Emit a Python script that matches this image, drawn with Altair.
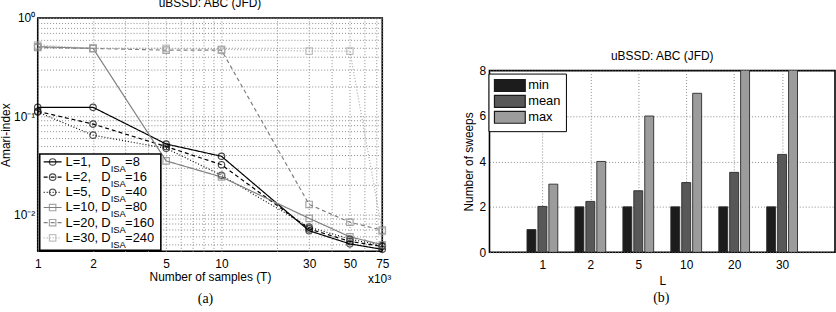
import altair as alt
import pandas as pd

# ---------------- data ----------------
# number of samples T (x10^3)
T = [1, 2, 5, 10, 30, 50, 75]
L_values = [1, 2, 5, 10, 20, 30]
D_isa = [8, 16, 40, 80, 160, 240]

amari_L1 = [0.123, 0.123, 0.052, 0.039, 0.0068, 0.0050, 0.0044]
amari_L2 = [0.112, 0.083, 0.049, 0.032, 0.0071, 0.0053, 0.0047]
amari_L5 = [0.110, 0.064, 0.047, 0.025, 0.0074, 0.0056, 0.0048]
amari_L10 = [0.51, 0.49, 0.035, 0.024, 0.0091, 0.0059, 0.0049]
amari_L20 = [0.50, 0.49, 0.47, 0.47, 0.0126, 0.0083, 0.0069]
amari_L30 = [0.53, 0.49, 0.49, 0.48, 0.46, 0.46, 0.0067]

sweeps_min = [1, 2, 2, 2, 2, 2]
sweeps_mean = [2.02, 2.24, 2.71, 3.07, 3.52, 4.31]
sweeps_max = [3, 4, 6, 7, 9, 10]

FONT = "Liberation Sans"

# ---------------- panel (a): Amari-index vs T ----------------
names = [f"L={l}" for l in L_values]
curves = [amari_L1, amari_L2, amari_L5, amari_L10, amari_L20, amari_L30]
rows = []
for name, vals in zip(names, curves):
    for t, v in zip(T, vals):
        rows.append({"series": name, "T": t, "amari": v})
df = pd.DataFrame(rows)

line_colors = ["#000000", "#000000", "#111111", "#808080", "#808080", "#a8a8a8"]
line_dashes = [[1, 0], [4, 3], [1, 2], [1, 0], [4, 3], [1, 2]]
marker_shapes = ["circle", "circle", "circle", "square", "square", "square"]

color_scale = alt.Scale(domain=names, range=line_colors)
dash_scale = alt.Scale(domain=names, range=line_dashes)
shape_scale = alt.Scale(domain=names, range=marker_shapes)

x_grid = [1, 2, 3, 4, 5, 6, 7, 8, 9, 10, 20, 30, 40, 50, 60, 70, 75]
y_grid = [m * 10.0 ** e for e in (-3, -2, -1) for m in range(1, 10)] + [1.0]
y_grid = [round(v, 6) for v in y_grid if v > 0.0045]

LW, LH = 347, 235

x_left = alt.X(
    "T:Q",
    scale=alt.Scale(type="log", domain=[1, 75], nice=False),
    axis=alt.Axis(
        values=x_grid,
        labelExpr="indexof([1,2,5,10,30,50,75], datum.value) >= 0 ? toString(datum.value) : ''",
        title="Number of samples (T)",
        labelPadding=7,
        titlePadding=2,
        labelOverlap=False,
        labelFlush=False,
    ),
)
y_left = alt.Y(
    "amari:Q",
    scale=alt.Scale(type="log", domain=[0.0042, 1], nice=False),
    axis=alt.Axis(
        values=y_grid,
        labelExpr="datum.value == 1 ? '10⁰' : (datum.value == 0.1 ? '10⁻¹' : (datum.value == 0.01 ? '10⁻²' : ''))",
        title="Amari-index",
        labelPadding=3,
        titlePadding=1,
        labelOverlap=False,
        labelFlush=False,
    ),
)

lines = alt.Chart(df).mark_line(strokeWidth=1.2).encode(
    x=x_left,
    y=y_left,
    color=alt.Color("series:N", scale=color_scale, legend=None),
    strokeDash=alt.StrokeDash("series:N", scale=dash_scale, legend=None),
)
points = alt.Chart(df).mark_point(filled=False, size=42, strokeWidth=1.2).encode(
    x="T:Q",
    y="amari:Q",
    color=alt.Color("series:N", scale=color_scale, legend=None),
    shape=alt.Shape("series:N", scale=shape_scale, legend=None),
)

# hand-built legend with D_ISA subscripts
leg = pd.DataFrame({
    "series": names,
    "row": list(range(len(names))),
    "lab": [f"L={l}," for l in L_values],
    "dval": [f"={d}" for d in D_isa],
})
leg["py"] = 145 + leg["row"] * 15.3
leg["D"] = "D"
leg["sub"] = "ISA"
ly = alt.Y("py:Q", scale=None, axis=None)

leg_box = alt.Chart(pd.DataFrame({"k": [0]})).mark_rect(
    fill="white", stroke="black", strokeWidth=1.6
).encode(x=alt.value(2), x2=alt.value(124), y=alt.value(137), y2=alt.value(234))
leg_line = alt.Chart(leg).mark_rule(strokeWidth=1.2).encode(
    x=alt.value(6), x2=alt.value(24), y=ly,
    color=alt.Color("series:N", scale=color_scale, legend=None),
    strokeDash=alt.StrokeDash("series:N", scale=dash_scale, legend=None),
)
leg_mark = alt.Chart(leg).mark_point(filled=False, size=42, strokeWidth=1.2).encode(
    x=alt.value(15), y=ly,
    color=alt.Color("series:N", scale=color_scale, legend=None),
    shape=alt.Shape("series:N", scale=shape_scale, legend=None),
)
txt = dict(align="left", baseline="middle", font=FONT, color="black")
leg_lab = alt.Chart(leg).mark_text(fontSize=13, **txt).encode(x=alt.value(28), y=ly, text="lab:N")
leg_D = alt.Chart(leg).mark_text(fontSize=13, **txt).encode(x=alt.value(64), y=ly, text="D:N")
leg_sub = alt.Chart(leg).mark_text(fontSize=9.5, dy=7, **txt).encode(x=alt.value(73.5), y=ly, text="sub:N")
leg_val = alt.Chart(leg).mark_text(fontSize=13, **txt).encode(x=alt.value(88), y=ly, text="dval:N")

scale_note = alt.Chart(pd.DataFrame({"t": ["x10³"]})).mark_text(
    align="right", baseline="middle", fontSize=12, font=FONT, color="black"
).encode(x=alt.value(LW + 9), y=alt.value(LH + 28), text="t:N")
tag_a = alt.Chart(pd.DataFrame({"t": ["(a)"]})).mark_text(
    align="center", baseline="middle", fontSize=14, font="Liberation Serif", color="black"
).encode(x=alt.value(169), y=alt.value(LH + 48), text="t:N")

left = alt.layer(
    lines, points, leg_box, leg_line, leg_mark, leg_lab, leg_D, leg_sub, leg_val, scale_note, tag_a
).properties(
    width=LW, height=LH,
    title=alt.TitleParams("uBSSD: ABC (JFD)", offset=2),
)

# ---------------- panel (b): number of sweeps ----------------
stats = ["min", "mean", "max"]
bar_rows = []
for i, (mn, me, mx) in enumerate(zip(sweeps_min, sweeps_mean, sweeps_max)):
    for k, (s, v) in enumerate(zip(stats, [mn, me, mx])):
        bar_rows.append({"pos": i + 1 + (k - 1) * 0.228, "stat": s, "sweeps": v})
bars_df = pd.DataFrame(bar_rows)

RW, RH = 348, 183
label_array = "[" + ",".join(f"'{l}'" for l in L_values) + "]"

bars = alt.Chart(bars_df).mark_bar(
    size=9, orient="vertical", clip=True, stroke="#2a2a2a", strokeWidth=0.9
).encode(
    x=alt.X(
        "pos:Q",
        scale=alt.Scale(domain=[0, 7], nice=False, zero=False),
        axis=alt.Axis(
            values=[1, 2, 3, 4, 5, 6],
            labelExpr=f"{label_array}[datum.value - 1]",
            title="L",
            labelPadding=7,
            titlePadding=5,
        ),
    ),
    y=alt.Y(
        "sweeps:Q",
        scale=alt.Scale(domain=[0, 8], nice=False),
        axis=alt.Axis(values=[0, 2, 4, 6, 8], title="Number of sweeps", labelPadding=4, titlePadding=3),
    ),
    fill=alt.Fill(
        "stat:N",
        scale=alt.Scale(domain=stats, range=["#1c1c1c", "#585858", "#9c9c9c"]),
        legend=alt.Legend(
            title=None,
            orient="none",
            legendX=-1,
            legendY=3,
            symbolType="M-1,-1H4.17V1H-1Z",
            symbolSize=144,
            symbolStrokeColor="#1a1a1a",
            symbolStrokeWidth=1.2,
            symbolOpacity=1,
            labelFontSize=13,
            labelFont=FONT,
            labelColor="black",
            labelOffset=21,
            rowPadding=-3,
            padding=5,
            strokeColor="black",
            fillColor="white",
        ),
    ),
)
tag_b = alt.Chart(pd.DataFrame({"t": ["(b)"]})).mark_text(
    align="center", baseline="middle", fontSize=14, font="Liberation Serif", color="black"
).encode(x=alt.value(173), y=alt.value(RH + 46), text="t:N")

right = alt.layer(bars, tag_b).properties(
    width=RW, height=RH,
    title=alt.TitleParams("uBSSD: ABC (JFD)", offset=2),
)

# empty band that lowers the right panel
spacer = alt.Chart(pd.DataFrame({"k": [0]})).mark_point(opacity=0).encode(
    x=alt.value(0), y=alt.value(0)
).properties(width=RW, height=1, view=alt.ViewBackground(stroke="transparent"))

right_col = alt.vconcat(spacer, right, spacing=27).resolve_scale(
    fill="independent"
).resolve_legend(fill="independent")

chart = alt.hconcat(left, right_col, spacing=70).resolve_scale(
    color="independent", fill="independent"
).resolve_legend(
    fill="independent"
).properties(
    padding={"left": -2, "top": -5, "right": 0, "bottom": 0}
).configure_view(
    stroke="black", strokeWidth=1.6
).configure_axis(
    labelFont=FONT, labelFontSize=12, labelColor="black",
    titleFont=FONT, titleFontSize=12, titleColor="black", titleFontWeight="normal",
    domain=False, ticks=False,
    gridColor="#8a8a8a", gridDash=[1, 2], gridWidth=1, gridOpacity=1,
).configure_title(
    font=FONT, fontSize=12, fontWeight="normal", color="black"
)

chart.save("out.html", embed_options={"renderer": "svg", "actions": False})
